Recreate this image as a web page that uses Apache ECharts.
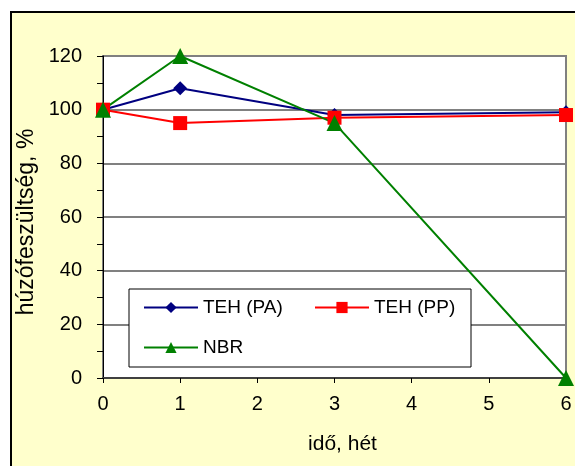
<!DOCTYPE html>
<html><head><meta charset="utf-8">
<script src="https://cdn.jsdelivr.net/npm/echarts@6/dist/echarts.min.js"></script>
<style>html,body{margin:0;padding:0;background:#fff}#main{width:575px;height:466px}</style>
</head><body><div id="main"></div>
<script>
const weeks = [0, 1, 3, 6];
const tehPA = [100, 108, 98, 99];
const tehPP = [100, 95, 97, 98];
const nbr = [100, 120, 95, 0];
const seriesNames = ['TEH (PA)', 'TEH (PP)', 'NBR'];
const xTitle = 'idő, hét';
const yTitle = 'húzófeszültség, %';

const font = 'Liberation Sans, Arial, sans-serif';
const pair = v => weeks.map((w, i) => [w, v[i]]);
const chart = echarts.init(document.getElementById('main'));
chart.setOption({
  animation: false,
  graphic: [{ type: 'rect', z: -10, shape: { x: 11, y: 12, width: 700, height: 600 },
    style: { fill: '#FFFFCC', stroke: '#000', lineWidth: 2 } }],
  grid: { left: 103, top: 56, right: 9, bottom: 88, show: true, backgroundColor: '#fff',
    borderColor: '#808080', borderWidth: 2 },
  xAxis: { type: 'value', min: 0, max: 6, interval: 1,
    name: xTitle, nameLocation: 'middle', nameGap: 56,
    nameTextStyle: { fontFamily: font, fontSize: 21, color: '#000', padding: [0, 0, 0, 16] },
    axisLine: { lineStyle: { color: '#404040', width: 2 } },
    axisTick: { show: true, length: 5, lineStyle: { color: '#000' } },
    splitLine: { show: false },
    axisLabel: { fontFamily: font, fontSize: 20, color: '#000', margin: 16 } },
  yAxis: { type: 'value', min: 0, max: 120, interval: 20,
    name: yTitle, nameLocation: 'middle', nameGap: 58, nameRotate: 90,
    nameTextStyle: { fontFamily: font, fontSize: 23, color: '#000', padding: [0, 10, 0, 0] },
    axisLine: { show: true, lineStyle: { color: '#000', width: 1 } },
    axisTick: { show: true, length: 6, lineStyle: { color: '#000' } },
    minorTick: { show: true, splitNumber: 2, length: 6, lineStyle: { color: '#000' } },
    splitLine: { show: true, lineStyle: { color: '#808080', width: 2 } },
    axisLabel: { fontFamily: font, fontSize: 20, color: '#000', margin: 21 } },
  legend: { left: 129, top: 289, width: 330, orient: 'horizontal',
    padding: [9, 7, 10, 14], itemGap: 21, itemWidth: 54, itemHeight: 14,
    borderColor: '#000', borderWidth: 1, backgroundColor: '#fff',
    textStyle: { fontFamily: font, fontSize: 19, color: '#000', width: 90, lineHeight: 17 },
    data: seriesNames },
  series: [
    { name: seriesNames[0], type: 'line', data: pair(tehPA), symbol: 'diamond', symbolSize: 14,
      color: '#000080', lineStyle: { width: 2 } },
    { name: seriesNames[1], type: 'line', data: pair(tehPP), symbol: 'rect', symbolSize: 14,
      color: '#FF0000', lineStyle: { width: 2 } },
    { name: seriesNames[2], type: 'line', data: pair(nbr), symbol: 'triangle', symbolSize: 16,
      color: '#008000', lineStyle: { width: 2 } }
  ]
});
</script></body></html>
